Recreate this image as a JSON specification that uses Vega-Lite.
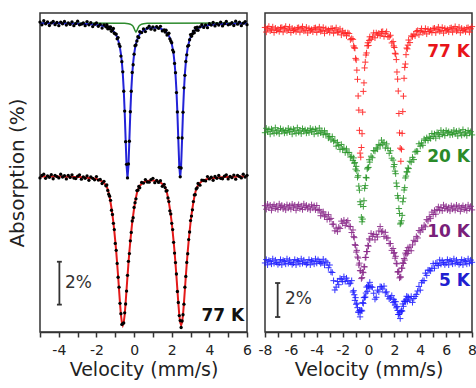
{
"$schema":"https://vega.github.io/schema/vega-lite/v6.json",
"padding":{"left":6,"top":12,"right":0,"bottom":0},
"background":"white",
"spacing":18,
"bounds":"flush",
"resolve":{"scale":{"x":"independent","y":"independent"}},
"config":{
 "view":{"stroke":"#333","strokeWidth":1.5},
 "font":"DejaVu Sans",
 "axisX":{"labelFont":"DejaVu Sans","labelFontSize":14,"labelColor":"#222","labelPadding":6,"labelFlush":false,"labelOverlap":false,"tickSize":5,"tickWidth":1.5,"tickColor":"#333","domainColor":"#333","domainWidth":1.5,"titleFont":"DejaVu Sans","titleFontSize":19,"titleFontWeight":"normal","titleColor":"#222","titlePadding":3,"grid":false},
 "axisY":{"titleFont":"DejaVu Sans","titleFontSize":20,"titleFontWeight":"normal","titleColor":"#222","grid":false}
},
"datasets":{
"left":[
{"v":-5.0,"bf":14.33,"bd":14.38,"rf":7.22,"rd":7.15},
{"v":-4.9,"bf":14.33,"bd":14.25,"rf":7.22,"rd":7.26},
{"v":-4.8,"bf":14.33,"bd":14.44,"rf":7.22,"rd":7.32},
{"v":-4.7,"bf":14.33,"bd":14.30,"rf":7.22,"rd":7.13},
{"v":-4.6,"bf":14.32,"bd":14.39,"rf":7.22,"rd":7.24},
{"v":-4.5,"bf":14.32,"bd":14.22,"rf":7.22,"rd":7.18},
{"v":-4.4,"bf":14.32,"bd":14.34,"rf":7.22,"rd":7.30},
{"v":-4.3,"bf":14.32,"bd":14.41,"rf":7.22,"rd":7.11},
{"v":-4.2,"bf":14.32,"bd":14.26,"rf":7.21,"rd":7.27},
{"v":-4.1,"bf":14.32,"bd":14.36,"rf":7.21,"rd":7.21},
{"v":-4.0,"bf":14.32,"bd":14.21,"rf":7.21,"rd":7.15},
{"v":-3.9,"bf":14.32,"bd":14.38,"rf":7.21,"rd":7.32},
{"v":-3.8,"bf":14.31,"bd":14.30,"rf":7.21,"rd":7.19},
{"v":-3.7,"bf":14.31,"bd":14.41,"rf":7.20,"rd":7.25},
{"v":-3.6,"bf":14.31,"bd":14.24,"rf":7.20,"rd":7.10},
{"v":-3.5,"bf":14.31,"bd":14.34,"rf":7.20,"rd":7.27},
{"v":-3.4,"bf":14.31,"bd":14.27,"rf":7.20,"rd":7.17},
{"v":-3.3,"bf":14.31,"bd":14.39,"rf":7.20,"rd":7.29},
{"v":-3.2,"bf":14.30,"bd":14.21,"rf":7.19,"rd":7.14},
{"v":-3.1,"bf":14.30,"bd":14.31,"rf":7.19,"rd":7.12},
{"v":-3.0,"bf":14.30,"bd":14.42,"rf":7.19,"rd":7.23},
{"v":-2.9,"bf":14.30,"bd":14.25,"rf":7.19,"rd":7.29},
{"v":-2.8,"bf":14.30,"bd":14.28,"rf":7.18,"rd":7.09},
{"v":-2.7,"bf":14.29,"bd":14.34,"rf":7.18,"rd":7.20},
{"v":-2.6,"bf":14.29,"bd":14.21,"rf":7.17,"rd":7.13},
{"v":-2.5,"bf":14.29,"bd":14.40,"rf":7.16,"rd":7.24},
{"v":-2.4,"bf":14.28,"bd":14.25,"rf":7.15,"rd":7.04},
{"v":-2.3,"bf":14.28,"bd":14.35,"rf":7.14,"rd":7.20},
{"v":-2.2,"bf":14.27,"bd":14.17,"rf":7.13,"rd":7.13},
{"v":-2.1,"bf":14.26,"bd":14.28,"rf":7.12,"rd":7.06},
{"v":-2.0,"bf":14.25,"bd":14.34,"rf":7.10,"rd":7.21},
{"v":-1.9,"bf":14.24,"bd":14.18,"rf":7.07,"rd":7.05},
{"v":-1.8,"bf":14.23,"bd":14.27,"rf":7.03,"rd":7.08},
{"v":-1.7,"bf":14.21,"bd":14.10,"rf":6.99,"rd":6.89},
{"v":-1.6,"bf":14.19,"bd":14.25,"rf":6.92,"rd":6.99},
{"v":-1.5,"bf":14.17,"bd":14.16,"rf":6.81,"rd":6.78},
{"v":-1.45,"bf":14.16,"bd":14.26,"rf":6.73,"rd":6.82},
{"v":-1.4,"bf":14.14,"bd":14.07,"rf":6.62,"rd":6.57},
{"v":-1.35,"bf":14.12,"bd":14.15,"rf":6.46,"rd":6.39},
{"v":-1.3,"bf":14.10,"bd":14.06,"rf":6.26,"rd":6.30},
{"v":-1.25,"bf":14.07,"bd":14.15,"rf":6.01,"rd":6.11},
{"v":-1.2,"bf":14.04,"bd":13.95,"rf":5.74,"rd":5.65},
{"v":-1.15,"bf":14.01,"bd":14.02,"rf":5.43,"rd":5.45},
{"v":-1.1,"bf":13.96,"bd":14.08,"rf":5.08,"rd":5.04},
{"v":-1.05,"bf":13.91,"bd":13.86,"rf":4.67,"rd":4.75},
{"v":-1.0,"bf":13.85,"bd":13.83,"rf":4.22,"rd":4.11},
{"v":-0.95,"bf":13.77,"bd":13.82,"rf":3.73,"rd":3.79},
{"v":-0.9,"bf":13.68,"bd":13.60,"rf":3.18,"rd":3.18},
{"v":-0.85,"bf":13.55,"bd":13.66,"rf":2.60,"rd":2.54},
{"v":-0.8,"bf":13.39,"bd":13.36,"rf":1.97,"rd":2.08},
{"v":-0.75,"bf":13.18,"bd":13.25,"rf":1.35,"rd":1.33},
{"v":-0.7,"bf":12.90,"bd":12.80,"rf":0.80,"rd":0.85},
{"v":-0.65,"bf":12.52,"bd":12.54,"rf":0.45,"rd":0.35},
{"v":-0.6,"bf":11.98,"bd":12.07,"rf":0.32,"rd":0.39},
{"v":-0.55,"bf":11.23,"bd":11.17,"rf":0.45,"rd":0.42},
{"v":-0.5,"bf":10.21,"bd":10.25,"rf":0.80,"rd":0.89},
{"v":-0.45,"bf":8.94,"bd":8.83,"rf":1.35,"rd":1.30},
{"v":-0.4,"bf":7.72,"bd":7.78,"rf":1.97,"rd":1.90},
{"v":-0.35,"bf":7.16,"bd":7.15,"rf":2.59,"rd":2.63},
{"v":-0.3,"bf":7.70,"bd":7.80,"rf":3.18,"rd":3.28},
{"v":-0.25,"bf":8.92,"bd":8.85,"rf":3.73,"rd":3.64},
{"v":-0.2,"bf":10.19,"bd":10.22,"rf":4.21,"rd":4.23},
{"v":-0.15,"bf":11.21,"bd":11.17,"rf":4.66,"rd":4.62},
{"v":-0.1,"bf":11.96,"bd":12.04,"rf":5.07,"rd":5.15},
{"v":-0.05,"bf":12.49,"bd":12.40,"rf":5.41,"rd":5.30},
{"v":0.0,"bf":12.88,"bd":12.89,"rf":5.72,"rd":5.78},
{"v":0.05,"bf":13.16,"bd":13.28,"rf":6.00,"rd":6.00},
{"v":0.1,"bf":13.37,"bd":13.32,"rf":6.24,"rd":6.18},
{"v":0.15,"bf":13.52,"bd":13.50,"rf":6.45,"rd":6.56},
{"v":0.2,"bf":13.65,"bd":13.70,"rf":6.60,"rd":6.58},
{"v":0.25,"bf":13.74,"bd":13.66,"rf":6.70,"rd":6.75},
{"v":0.3,"bf":13.82,"bd":13.93,"rf":6.79,"rd":6.69},
{"v":0.4,"bf":13.92,"bd":13.89,"rf":6.87,"rd":6.94},
{"v":0.5,"bf":13.99,"bd":14.06,"rf":6.94,"rd":6.91},
{"v":0.6,"bf":14.04,"bd":13.94,"rf":6.98,"rd":7.07},
{"v":0.7,"bf":14.08,"bd":14.10,"rf":7.01,"rd":6.96},
{"v":0.8,"bf":14.10,"bd":14.19,"rf":7.02,"rd":6.95},
{"v":0.9,"bf":14.11,"bd":14.05,"rf":7.03,"rd":7.07},
{"v":1.0,"bf":14.12,"bd":14.16,"rf":7.03,"rd":7.13},
{"v":1.1,"bf":14.12,"bd":14.01,"rf":7.02,"rd":6.93},
{"v":1.2,"bf":14.11,"bd":14.17,"rf":7.01,"rd":7.03},
{"v":1.3,"bf":14.10,"bd":14.09,"rf":6.98,"rd":6.94},
{"v":1.4,"bf":14.08,"bd":14.18,"rf":6.94,"rd":7.02},
{"v":1.5,"bf":14.04,"bd":13.97,"rf":6.87,"rd":6.76},
{"v":1.6,"bf":13.99,"bd":14.02,"rf":6.79,"rd":6.85},
{"v":1.65,"bf":13.96,"bd":13.92,"rf":6.70,"rd":6.70},
{"v":1.7,"bf":13.92,"bd":14.00,"rf":6.60,"rd":6.54},
{"v":1.75,"bf":13.87,"bd":13.78,"rf":6.45,"rd":6.56},
{"v":1.8,"bf":13.82,"bd":13.83,"rf":6.24,"rd":6.22},
{"v":1.85,"bf":13.74,"bd":13.86,"rf":6.00,"rd":6.05},
{"v":1.9,"bf":13.65,"bd":13.60,"rf":5.72,"rd":5.62},
{"v":1.95,"bf":13.52,"bd":13.50,"rf":5.41,"rd":5.48},
{"v":2.0,"bf":13.37,"bd":13.42,"rf":5.07,"rd":5.04},
{"v":2.05,"bf":13.16,"bd":13.08,"rf":4.66,"rd":4.75},
{"v":2.1,"bf":12.88,"bd":12.99,"rf":4.21,"rd":4.16},
{"v":2.15,"bf":12.49,"bd":12.46,"rf":3.73,"rd":3.66},
{"v":2.2,"bf":11.96,"bd":12.03,"rf":3.18,"rd":3.22},
{"v":2.25,"bf":11.21,"bd":11.11,"rf":2.59,"rd":2.69},
{"v":2.3,"bf":10.19,"bd":10.21,"rf":1.97,"rd":1.88},
{"v":2.35,"bf":8.92,"bd":9.01,"rf":1.35,"rd":1.37},
{"v":2.4,"bf":7.70,"bd":7.64,"rf":0.80,"rd":0.76},
{"v":2.45,"bf":7.16,"bd":7.20,"rf":0.45,"rd":0.53},
{"v":2.5,"bf":7.72,"bd":7.61,"rf":0.32,"rd":0.21},
{"v":2.55,"bf":8.94,"bd":9.00,"rf":0.45,"rd":0.51},
{"v":2.6,"bf":10.21,"bd":10.20,"rf":0.80,"rd":0.80},
{"v":2.65,"bf":11.23,"bd":11.33,"rf":1.35,"rd":1.29},
{"v":2.7,"bf":11.98,"bd":11.91,"rf":1.97,"rd":2.08},
{"v":2.75,"bf":12.52,"bd":12.55,"rf":2.60,"rd":2.58},
{"v":2.8,"bf":12.90,"bd":12.86,"rf":3.18,"rd":3.23},
{"v":2.85,"bf":13.18,"bd":13.26,"rf":3.73,"rd":3.63},
{"v":2.9,"bf":13.39,"bd":13.30,"rf":4.22,"rd":4.29},
{"v":2.95,"bf":13.55,"bd":13.56,"rf":4.67,"rd":4.64},
{"v":3.0,"bf":13.68,"bd":13.80,"rf":5.08,"rd":5.17},
{"v":3.05,"bf":13.77,"bd":13.72,"rf":5.43,"rd":5.38},
{"v":3.1,"bf":13.85,"bd":13.83,"rf":5.74,"rd":5.67},
{"v":3.15,"bf":13.91,"bd":13.96,"rf":6.01,"rd":6.05},
{"v":3.2,"bf":13.96,"bd":13.88,"rf":6.26,"rd":6.36},
{"v":3.25,"bf":14.01,"bd":14.12,"rf":6.46,"rd":6.37},
{"v":3.3,"bf":14.04,"bd":14.01,"rf":6.62,"rd":6.64},
{"v":3.35,"bf":14.07,"bd":14.14,"rf":6.73,"rd":6.69},
{"v":3.4,"bf":14.10,"bd":14.00,"rf":6.81,"rd":6.89},
{"v":3.5,"bf":14.14,"bd":14.16,"rf":6.92,"rd":6.81},
{"v":3.6,"bf":14.17,"bd":14.26,"rf":6.99,"rd":7.05},
{"v":3.7,"bf":14.19,"bd":14.13,"rf":7.03,"rd":7.03},
{"v":3.8,"bf":14.21,"bd":14.25,"rf":7.07,"rd":7.01},
{"v":3.9,"bf":14.23,"bd":14.12,"rf":7.10,"rd":7.21},
{"v":4.0,"bf":14.24,"bd":14.30,"rf":7.12,"rd":7.10},
{"v":4.1,"bf":14.25,"bd":14.24,"rf":7.13,"rd":7.18},
{"v":4.2,"bf":14.26,"bd":14.36,"rf":7.14,"rd":7.04},
{"v":4.3,"bf":14.27,"bd":14.20,"rf":7.15,"rd":7.22},
{"v":4.4,"bf":14.28,"bd":14.31,"rf":7.16,"rd":7.13},
{"v":4.5,"bf":14.28,"bd":14.24,"rf":7.17,"rd":7.26},
{"v":4.6,"bf":14.29,"bd":14.37,"rf":7.18,"rd":7.13},
{"v":4.7,"bf":14.29,"bd":14.20,"rf":7.18,"rd":7.11},
{"v":4.8,"bf":14.29,"bd":14.30,"rf":7.19,"rd":7.23},
{"v":4.9,"bf":14.29,"bd":14.41,"rf":7.19,"rd":7.29},
{"v":5.0,"bf":14.30,"bd":14.25,"rf":7.19,"rd":7.10},
{"v":5.1,"bf":14.30,"bd":14.28,"rf":7.20,"rd":7.22},
{"v":5.2,"bf":14.30,"bd":14.35,"rf":7.20,"rd":7.16},
{"v":5.3,"bf":14.30,"bd":14.22,"rf":7.20,"rd":7.28},
{"v":5.4,"bf":14.31,"bd":14.42,"rf":7.20,"rd":7.09},
{"v":5.5,"bf":14.31,"bd":14.28,"rf":7.21,"rd":7.27},
{"v":5.6,"bf":14.31,"bd":14.38,"rf":7.21,"rd":7.21},
{"v":5.7,"bf":14.31,"bd":14.21,"rf":7.21,"rd":7.15},
{"v":5.8,"bf":14.31,"bd":14.33,"rf":7.21,"rd":7.32},
{"v":5.9,"bf":14.31,"bd":14.40,"rf":7.21,"rd":7.19},
{"v":6.0,"bf":14.32,"bd":14.26,"rf":7.22,"rd":7.27}
],
"greenfit":[
{"v":-5.0,"value":14.34},{"v":-0.5,"value":14.32},{"v":-0.3,"value":14.30},{"v":-0.2,"value":14.28},{"v":-0.1,"value":14.23},{"v":-0.05,"value":14.18},{"v":0.0,"value":14.09},{"v":0.05,"value":13.98},{"v":0.1,"value":13.92},{"v":0.15,"value":13.98},{"v":0.2,"value":14.09},{"v":0.25,"value":14.18},{"v":0.3,"value":14.23},{"v":0.4,"value":14.28},{"v":0.5,"value":14.30},{"v":0.7,"value":14.32},{"v":6.0,"value":14.34}
],
"right":[
{"v":-8.0,"r":17.91,"g":11.72,"p":7.43,"b":4.06},
{"v":-7.9,"r":17.64,"g":11.98,"p":7.22,"b":4.26},
{"v":-7.8,"r":17.84,"g":11.78,"p":7.52,"b":3.95},
{"v":-7.7,"r":17.97,"g":11.91,"p":7.30,"b":4.21},
{"v":-7.6,"r":17.71,"g":11.64,"p":7.46,"b":4.15},
{"v":-7.5,"r":17.77,"g":11.94,"p":7.16,"b":4.00},
{"v":-7.4,"r":17.94,"g":11.83,"p":7.37,"b":4.30},
{"v":-7.3,"r":17.61,"g":11.68,"p":7.49,"b":4.04},
{"v":-7.2,"r":17.87,"g":12.01,"p":7.26,"b":4.23},
{"v":-7.1,"r":17.74,"g":11.75,"p":7.41,"b":4.10},
{"v":-7.0,"r":17.81,"g":11.87,"p":7.20,"b":3.97},
{"v":-6.9,"r":17.67,"g":11.66,"p":7.53,"b":4.06},
{"v":-6.8,"r":17.89,"g":11.96,"p":7.32,"b":4.26},
{"v":-6.7,"r":17.91,"g":11.81,"p":7.45,"b":3.95},
{"v":-6.6,"r":17.64,"g":11.89,"p":7.24,"b":4.21},
{"v":-6.5,"r":17.84,"g":11.70,"p":7.39,"b":4.15},
{"v":-6.4,"r":17.97,"g":11.85,"p":7.18,"b":4.00},
{"v":-6.3,"r":17.71,"g":11.72,"p":7.48,"b":4.30},
{"v":-6.2,"r":17.77,"g":11.98,"p":7.29,"b":4.04},
{"v":-6.1,"r":17.94,"g":11.78,"p":7.43,"b":4.23},
{"v":-6.0,"r":17.61,"g":11.91,"p":7.22,"b":4.10},
{"v":-5.9,"r":17.86,"g":11.64,"p":7.52,"b":3.97},
{"v":-5.8,"r":17.73,"g":11.94,"p":7.30,"b":4.06},
{"v":-5.7,"r":17.80,"g":11.83,"p":7.46,"b":4.26},
{"v":-5.6,"r":17.66,"g":11.68,"p":7.16,"b":3.95},
{"v":-5.5,"r":17.88,"g":12.01,"p":7.37,"b":4.21},
{"v":-5.4,"r":17.90,"g":11.75,"p":7.49,"b":4.15},
{"v":-5.3,"r":17.63,"g":11.87,"p":7.26,"b":4.00},
{"v":-5.2,"r":17.83,"g":11.66,"p":7.41,"b":4.30},
{"v":-5.1,"r":17.96,"g":11.96,"p":7.20,"b":4.04},
{"v":-5.0,"r":17.70,"g":11.81,"p":7.53,"b":4.23},
{"v":-4.9,"r":17.75,"g":11.89,"p":7.32,"b":4.10},
{"v":-4.8,"r":17.92,"g":11.70,"p":7.45,"b":3.97},
{"v":-4.7,"r":17.59,"g":11.85,"p":7.24,"b":4.06},
{"v":-4.6,"r":17.85,"g":11.72,"p":7.39,"b":4.26},
{"v":-4.5,"r":17.72,"g":11.98,"p":7.18,"b":3.95},
{"v":-4.4,"r":17.79,"g":11.78,"p":7.48,"b":4.21},
{"v":-4.3,"r":17.65,"g":11.91,"p":7.29,"b":4.15},
{"v":-4.2,"r":17.87,"g":11.64,"p":7.42,"b":4.00},
{"v":-4.1,"r":17.89,"g":11.94,"p":7.19,"b":4.30},
{"v":-4.0,"r":17.62,"g":11.83,"p":7.44,"b":4.05},
{"v":-3.9,"r":17.81,"g":11.67,"p":7.15,"b":4.25},
{"v":-3.8,"r":17.94,"g":11.99,"p":7.21,"b":4.14},
{"v":-3.7,"r":17.68,"g":11.72,"p":6.84,"b":4.03},
{"v":-3.6,"r":17.74,"g":11.82,"p":7.00,"b":4.10},
{"v":-3.5,"r":17.91,"g":11.60,"p":7.07,"b":4.28},
{"v":-3.4,"r":17.57,"g":11.84,"p":6.78,"b":3.94},
{"v":-3.3,"r":17.83,"g":11.63,"p":6.88,"b":4.17},
{"v":-3.2,"r":17.70,"g":11.66,"p":6.62,"b":4.07},
{"v":-3.1,"r":17.77,"g":11.41,"p":6.90,"b":3.78},
{"v":-3.0,"r":17.62,"g":11.50,"p":6.63,"b":3.94},
{"v":-2.9,"r":17.84,"g":11.30,"p":6.68,"b":3.53},
{"v":-2.8,"r":17.85,"g":11.49,"p":6.34,"b":3.50},
{"v":-2.7,"r":17.57,"g":11.22,"p":6.34,"b":3.02},
{"v":-2.6,"r":17.76,"g":11.27,"p":5.95,"b":2.47},
{"v":-2.5,"r":17.89,"g":10.93,"p":6.11,"b":2.64},
{"v":-2.4,"r":17.62,"g":11.15,"p":5.90,"b":2.97},
{"v":-2.3,"r":17.66,"g":10.97,"p":6.16,"b":2.78},
{"v":-2.2,"r":17.82,"g":10.74,"p":6.09,"b":3.15},
{"v":-2.1,"r":17.47,"g":11.03,"p":6.52,"b":3.10},
{"v":-2.0,"r":17.71,"g":10.75,"p":6.39,"b":2.96},
{"v":-1.9,"r":17.56,"g":10.81,"p":6.58,"b":3.25},
{"v":-1.8,"r":17.60,"g":10.55,"p":6.27,"b":2.98},
{"v":-1.7,"r":17.42,"g":10.77,"p":6.46,"b":3.17},
{"v":-1.6,"r":17.59,"g":10.55,"p":6.55,"b":3.01},
{"v":-1.5,"r":17.55,"g":10.56,"p":6.21,"b":2.83},
{"v":-1.4,"r":17.19,"g":10.29,"p":6.20,"b":2.87},
{"v":-1.3,"r":17.26,"g":10.33,"p":5.85,"b":3.02},
{"v":-1.2,"r":17.21,"g":10.08,"p":6.00,"b":2.35},
{"v":-1.15,"r":16.82,"g":10.24,"p":5.61,"b":2.43},
{"v":-1.1,"r":16.72,"g":9.93,"p":5.55,"b":2.19},
{"v":-1.05,"r":16.69,"g":9.96,"p":5.14,"b":1.86},
{"v":-1.0,"r":16.09,"g":9.58,"p":5.09,"b":2.02},
{"v":-0.95,"r":16.00,"g":9.74,"p":4.70,"b":1.63},
{"v":-0.9,"r":15.40,"g":9.48,"p":4.80,"b":1.69},
{"v":-0.85,"r":14.86,"g":9.10,"p":4.41,"b":1.43},
{"v":-0.8,"r":13.88,"g":9.19,"p":4.35,"b":1.17},
{"v":-0.75,"r":13.05,"g":8.58,"p":3.94,"b":1.16},
{"v":-0.7,"r":11.86,"g":8.34,"p":4.05,"b":1.27},
{"v":-0.65,"r":10.52,"g":7.66,"p":3.61,"b":0.89},
{"v":-0.6,"r":10.28,"g":7.49,"p":3.60,"b":1.23},
{"v":-0.55,"r":10.85,"g":6.75,"p":3.14,"b":1.28},
{"v":-0.5,"r":11.66,"g":6.48,"p":3.20,"b":1.24},
{"v":-0.45,"r":12.93,"g":6.64,"p":3.52,"b":1.73},
{"v":-0.4,"r":14.15,"g":7.38,"p":3.49,"b":1.68},
{"v":-0.35,"r":14.65,"g":7.72,"p":3.84,"b":2.02},
{"v":-0.3,"r":15.53,"g":8.45,"p":3.83,"b":2.04},
{"v":-0.25,"r":15.87,"g":8.61,"p":4.38,"b":2.05},
{"v":-0.2,"r":16.29,"g":9.09,"p":4.39,"b":2.29},
{"v":-0.15,"r":16.41,"g":9.06,"p":4.73,"b":2.64},
{"v":-0.1,"r":16.83,"g":9.59,"p":4.73,"b":2.39},
{"v":-0.05,"r":17.01,"g":9.66,"p":5.09,"b":2.71},
{"v":0.0,"r":16.85,"g":9.68,"p":5.05,"b":2.70},
{"v":0.05,"r":17.15,"g":10.13,"p":5.48,"b":2.59},
{"v":0.1,"r":17.36,"g":9.99,"p":5.41,"b":2.92},
{"v":0.2,"r":17.22,"g":10.34,"p":5.80,"b":2.66},
{"v":0.3,"r":17.36,"g":10.25,"p":5.62,"b":2.63},
{"v":0.4,"r":17.59,"g":10.67,"p":5.75,"b":2.28},
{"v":0.5,"r":17.30,"g":10.64,"p":5.42,"b":1.93},
{"v":0.6,"r":17.59,"g":10.83,"p":5.73,"b":2.04},
{"v":0.7,"r":17.48,"g":10.76,"p":5.59,"b":2.46},
{"v":0.8,"r":17.57,"g":11.03,"p":5.94,"b":2.36},
{"v":0.9,"r":17.43,"g":10.96,"p":6.20,"b":2.67},
{"v":1.0,"r":17.65,"g":11.28,"p":5.89,"b":2.65},
{"v":1.1,"r":17.67,"g":11.05,"p":5.93,"b":2.53},
{"v":1.2,"r":17.38,"g":11.15,"p":5.62,"b":2.70},
{"v":1.3,"r":17.56,"g":10.82,"p":5.86,"b":2.31},
{"v":1.4,"r":17.66,"g":11.06,"p":5.53,"b":2.36},
{"v":1.5,"r":17.36,"g":10.81,"p":5.53,"b":2.10},
{"v":1.6,"r":17.36,"g":10.51,"p":5.20,"b":1.95},
{"v":1.7,"r":17.45,"g":10.66,"p":5.20,"b":2.01},
{"v":1.8,"r":17.00,"g":10.22,"p":4.80,"b":2.14},
{"v":1.9,"r":17.08,"g":10.11,"p":4.91,"b":1.73},
{"v":1.95,"r":16.82,"g":9.72,"p":4.63,"b":1.92},
{"v":2.0,"r":16.73,"g":9.85,"p":4.67,"b":1.80},
{"v":2.05,"r":16.39,"g":9.46,"p":4.34,"b":1.59},
{"v":2.1,"r":16.35,"g":9.31,"p":4.45,"b":1.78},
{"v":2.15,"r":16.02,"g":8.76,"p":4.04,"b":1.42},
{"v":2.2,"r":15.29,"g":8.56,"p":4.01,"b":1.50},
{"v":2.25,"r":14.87,"g":8.02,"p":3.53,"b":1.27},
{"v":2.3,"r":14.17,"g":7.87,"p":3.55,"b":1.03},
{"v":2.35,"r":12.85,"g":7.26,"p":3.54,"b":1.03},
{"v":2.4,"r":11.71,"g":6.97,"p":3.18,"b":1.13},
{"v":2.45,"r":10.81,"g":6.35,"p":3.24,"b":0.79},
{"v":2.5,"r":10.04,"g":6.41,"p":3.23,"b":1.20},
{"v":2.55,"r":10.74,"g":6.54,"p":3.76,"b":1.26},
{"v":2.6,"r":11.68,"g":6.86,"p":3.75,"b":1.23},
{"v":2.65,"r":12.96,"g":7.66,"p":4.07,"b":1.65},
{"v":2.7,"r":13.87,"g":7.87,"p":4.03,"b":1.51},
{"v":2.75,"r":14.92,"g":8.35,"p":4.32,"b":1.81},
{"v":2.8,"r":15.56,"g":8.49,"p":4.23,"b":1.80},
{"v":2.85,"r":15.76,"g":9.06,"p":4.64,"b":1.79},
{"v":2.9,"r":16.31,"g":9.17,"p":4.54,"b":1.89},
{"v":2.95,"r":16.70,"g":9.42,"p":4.79,"b":2.10},
{"v":3.0,"r":16.65,"g":9.41,"p":4.62,"b":1.80},
{"v":3.05,"r":16.87,"g":9.65,"p":4.96,"b":2.07},
{"v":3.1,"r":17.17,"g":9.61,"p":4.77,"b":2.02},
{"v":3.2,"r":17.02,"g":10.04,"p":5.00,"b":1.88},
{"v":3.3,"r":17.41,"g":9.99,"p":4.78,"b":2.09},
{"v":3.4,"r":17.37,"g":10.27,"p":5.12,"b":1.74},
{"v":3.5,"r":17.51,"g":10.14,"p":5.39,"b":1.97},
{"v":3.6,"r":17.42,"g":10.59,"p":5.32,"b":2.09},
{"v":3.7,"r":17.68,"g":10.63,"p":5.62,"b":2.21},
{"v":3.8,"r":17.73,"g":10.62,"p":5.53,"b":2.41},
{"v":3.9,"r":17.48,"g":11.07,"p":5.97,"b":2.68},
{"v":4.0,"r":17.70,"g":10.93,"p":5.88,"b":2.46},
{"v":4.1,"r":17.84,"g":11.12,"p":6.12,"b":2.90},
{"v":4.2,"r":17.60,"g":10.98,"p":6.02,"b":3.02},
{"v":4.3,"r":17.67,"g":11.35,"p":6.28,"b":3.02},
{"v":4.4,"r":17.85,"g":11.27,"p":6.19,"b":3.46},
{"v":4.5,"r":17.53,"g":11.42,"p":6.61,"b":3.33},
{"v":4.6,"r":17.80,"g":11.27,"p":6.53,"b":3.64},
{"v":4.7,"r":17.67,"g":11.47,"p":6.78,"b":3.63},
{"v":4.8,"r":17.75,"g":11.38,"p":6.67,"b":3.59},
{"v":4.9,"r":17.61,"g":11.67,"p":7.05,"b":3.75},
{"v":5.0,"r":17.84,"g":11.49,"p":6.91,"b":4.02},
{"v":5.1,"r":17.87,"g":11.65,"p":7.15,"b":3.75},
{"v":5.2,"r":17.60,"g":11.40,"p":6.93,"b":4.05},
{"v":5.3,"r":17.80,"g":11.73,"p":7.21,"b":4.02},
{"v":5.4,"r":17.93,"g":11.64,"p":7.36,"b":3.91},
{"v":5.5,"r":17.68,"g":11.51,"p":7.15,"b":4.24},
{"v":5.6,"r":17.74,"g":11.86,"p":7.32,"b":3.99},
{"v":5.7,"r":17.91,"g":11.62,"p":7.13,"b":4.20},
{"v":5.8,"r":17.58,"g":11.76,"p":7.47,"b":4.08},
{"v":5.9,"r":17.85,"g":11.55,"p":7.26,"b":3.96},
{"v":6.0,"r":17.72,"g":11.85,"p":7.39,"b":4.06},
{"v":6.1,"r":17.79,"g":11.70,"p":7.18,"b":4.26},
{"v":6.2,"r":17.65,"g":11.78,"p":7.33,"b":3.95},
{"v":6.3,"r":17.87,"g":11.59,"p":7.12,"b":4.21},
{"v":6.4,"r":17.89,"g":11.74,"p":7.42,"b":4.15},
{"v":6.5,"r":17.63,"g":11.61,"p":7.23,"b":4.00},
{"v":6.6,"r":17.83,"g":11.87,"p":7.37,"b":4.30},
{"v":6.7,"r":17.96,"g":11.67,"p":7.16,"b":4.04},
{"v":6.8,"r":17.70,"g":11.80,"p":7.46,"b":4.23},
{"v":6.9,"r":17.76,"g":11.53,"p":7.24,"b":4.10},
{"v":7.0,"r":17.93,"g":11.83,"p":7.40,"b":3.97},
{"v":7.1,"r":17.60,"g":11.72,"p":7.10,"b":4.06},
{"v":7.2,"r":17.86,"g":11.57,"p":7.31,"b":4.26},
{"v":7.3,"r":17.73,"g":11.90,"p":7.43,"b":3.95},
{"v":7.4,"r":17.80,"g":11.64,"p":7.20,"b":4.21},
{"v":7.5,"r":17.66,"g":11.76,"p":7.35,"b":4.15},
{"v":7.6,"r":17.88,"g":11.55,"p":7.14,"b":4.00},
{"v":7.7,"r":17.90,"g":11.85,"p":7.47,"b":4.30},
{"v":7.8,"r":17.63,"g":11.70,"p":7.26,"b":4.04},
{"v":7.9,"r":17.83,"g":11.78,"p":7.39,"b":4.23},
{"v":8.0,"r":17.96,"g":11.59,"p":7.18,"b":4.10}
],
"barL":[{"v":-3.97,"v2":-3.97,"value":3.26,"value2":1.27},{"v":-4.1,"v2":-3.84,"value":3.26,"value2":3.26},{"v":-4.1,"v2":-3.84,"value":1.27,"value2":1.27}],
"barR":[{"v":-7.02,"v2":-7.02,"value":2.88,"value2":0.88},{"v":-7.22,"v2":-6.82,"value":2.88,"value2":2.88},{"v":-7.22,"v2":-6.82,"value":0.88,"value2":0.88}],
"labR":[{"v":7.84,"value":16.47,"t":"77 K"},{"v":7.84,"value":10.29,"t":"20 K"},{"v":7.84,"value":5.88,"t":"10 K"},{"v":7.84,"value":3.0,"t":"5 K"}]
},
"hconcat":[
{
 "width":207,"height":319,
 "encoding":{
  "x":{"field":"v","type":"quantitative","scale":{"domain":[-5,6],"nice":false,"zero":false},
   "axis":{"title":"Velocity (mm/s)","values":[-5,-4,-3,-2,-1,0,1,2,3,4,5,6],"labelExpr":"datum.value % 2 === 0 ? '' + datum.value : ''"}},
  "y":{"field":"value","type":"quantitative","scale":{"domain":[0,14.8],"nice":false,"zero":false},
   "axis":{"title":"Absorption (%)","labels":false,"ticks":false,"domain":false,"titlePadding":13}}
 },
 "layer":[
  {"data":{"name":"greenfit"},"mark":{"type":"line","color":"#2e8b2e","strokeWidth":1.5}},
  {"data":{"name":"left"},"transform":[{"fold":["bf"],"as":["k","value"]}],"mark":{"type":"line","color":"#2323d8","strokeWidth":2}},
  {"data":{"name":"left"},"transform":[{"fold":["rf"],"as":["k","value"]}],"mark":{"type":"line","color":"#e31a1a","strokeWidth":2}},
  {"data":{"name":"left"},"transform":[{"fold":["bd","rd"],"as":["k","value"]}],"mark":{"type":"circle","color":"#000","size":11,"opacity":1}},
  {"data":{"name":"barL"},"mark":{"type":"rule","color":"#333","strokeWidth":1.8},"encoding":{"x2":{"field":"v2"},"y2":{"field":"value2"}}},
  {"data":{"values":[{"v":-3.67,"value":2.27,"t":"2%"}]},"mark":{"type":"text","align":"left","baseline":"middle","fontSize":17,"color":"#333","font":"DejaVu Sans"},"encoding":{"text":{"field":"t"}}},
  {"data":{"values":[{"v":5.85,"value":0.74,"t":"77 K"}]},"mark":{"type":"text","align":"right","baseline":"middle","fontSize":17,"fontWeight":"bold","color":"#111","font":"DejaVu Sans"},"encoding":{"text":{"field":"t"}}}
 ]
},
{
 "width":207,"height":319,
 "encoding":{
  "x":{"field":"v","type":"quantitative","scale":{"domain":[-8,8],"nice":false,"zero":false},
   "axis":{"title":"Velocity (mm/s)","values":[-8,-7,-6,-5,-4,-3,-2,-1,0,1,2,3,4,5,6,7,8],"labelExpr":"datum.value % 2 === 0 ? '' + datum.value : ''"}},
  "y":{"field":"value","type":"quantitative","scale":{"domain":[0,18.76],"nice":false,"zero":false},"axis":null}
 },
 "layer":[
  {"data":{"name":"right"},"transform":[{"fold":["r","g","p","b"],"as":["k","value"]}],
   "mark":{"type":"point","shape":"M-1,0L1,0M0,-1L0,1","filled":false,"size":40,"strokeWidth":1,"opacity":0.9},
   "encoding":{"color":{"field":"k","type":"nominal","scale":{"domain":["r","g","p","b"],"range":["#ff2020","#2a962a","#8a2a8a","#2020ff"]},"legend":null}}},
  {"data":{"name":"barR"},"mark":{"type":"rule","color":"#333","strokeWidth":1.8},"encoding":{"x2":{"field":"v2"},"y2":{"field":"value2"}}},
  {"data":{"values":[{"v":-6.45,"value":1.94,"t":"2%"}]},"mark":{"type":"text","align":"left","baseline":"middle","fontSize":17,"color":"#333","font":"DejaVu Sans"},"encoding":{"text":{"field":"t"}}},
  {"data":{"name":"labR"},"transform":[{"filter":"datum.t === '77 K'"}],"mark":{"type":"text","align":"right","baseline":"middle","fontSize":17,"fontWeight":"bold","color":"#e8141a","font":"DejaVu Sans"},"encoding":{"text":{"field":"t"}}},
  {"data":{"name":"labR"},"transform":[{"filter":"datum.t === '20 K'"}],"mark":{"type":"text","align":"right","baseline":"middle","fontSize":17,"fontWeight":"bold","color":"#2a8a2a","font":"DejaVu Sans"},"encoding":{"text":{"field":"t"}}},
  {"data":{"name":"labR"},"transform":[{"filter":"datum.t === '10 K'"}],"mark":{"type":"text","align":"right","baseline":"middle","fontSize":17,"fontWeight":"bold","color":"#7a1f7a","font":"DejaVu Sans"},"encoding":{"text":{"field":"t"}}},
  {"data":{"name":"labR"},"transform":[{"filter":"datum.t === '5 K'"}],"mark":{"type":"text","align":"right","baseline":"middle","fontSize":17,"fontWeight":"bold","color":"#2020d0","font":"DejaVu Sans"},"encoding":{"text":{"field":"t"}}}
 ]
}
]
}
